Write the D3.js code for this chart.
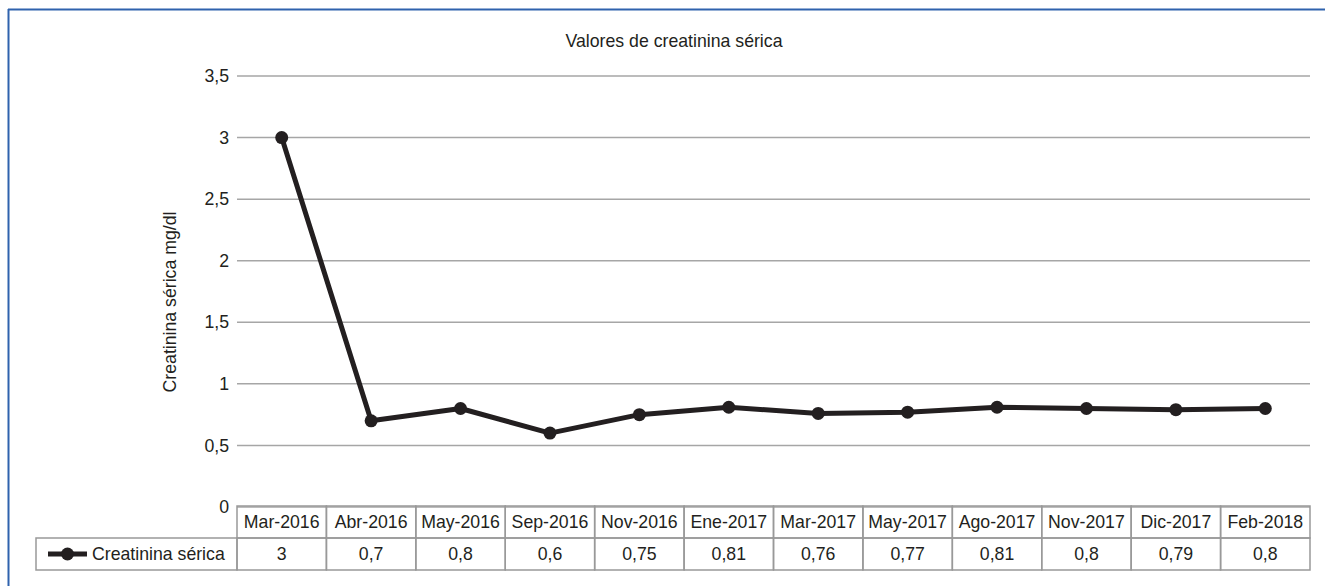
<!DOCTYPE html>
<html><head><meta charset="utf-8">
<script src="https://cdn.jsdelivr.net/npm/d3@7"></script>
<style>html,body{margin:0;padding:0;background:#fff;overflow:hidden;}svg{display:block;}</style>
</head><body>
<svg id="c" width="1325" height="586"></svg>
<script>
const categories = ["Mar-2016","Abr-2016","May-2016","Sep-2016","Nov-2016","Ene-2017","Mar-2017","May-2017","Ago-2017","Nov-2017","Dic-2017","Feb-2018"];
const values = [3, 0.7, 0.8, 0.6, 0.75, 0.81, 0.76, 0.77, 0.81, 0.8, 0.79, 0.8];
const valueLabels = ["3","0,7","0,8","0,6","0,75","0,81","0,76","0,77","0,81","0,8","0,79","0,8"];
const yTicks = [0, 0.5, 1, 1.5, 2, 2.5, 3, 3.5];
const seriesName = "Creatinina sérica";
const title = "Valores de creatinina sérica";
const yTitle = "Creatinina sérica mg/dl";

const svg = d3.select("#c");
const font = "'Liberation Sans', Arial, Helvetica, sans-serif";
const fs = 17.7;
const txt = "#231f20";
const L = 237, R = 1310, T = 76, B = 507;
const rowH = 32;

// frame (top and left edges visible)
svg.append("line").attr("x1",8).attr("x2",1325).attr("y1",9.5).attr("y2",9.5)
  .attr("stroke","#2f62ad").attr("stroke-width",2);
svg.append("line").attr("x1",8.5).attr("x2",8.5).attr("y1",9).attr("y2",586)
  .attr("stroke","#2f62ad").attr("stroke-width",2);

const x = d3.scaleBand().domain(categories).range([L, R]);
const y = d3.scaleLinear().domain([0, 3.5]).range([B, T]);

// gridlines
svg.append("g").selectAll("line").data(yTicks).join("line")
  .attr("x1", L).attr("x2", R).attr("y1", d=>y(d)).attr("y2", d=>y(d))
  .attr("stroke","#a6a6a6").attr("stroke-width",1.5);

// y axis labels
const yAxis = d3.axisLeft(y).tickValues(yTicks).tickSize(0).tickPadding(8)
  .tickFormat(d => String(d).replace(".", ","));
const ya = svg.append("g").attr("transform", `translate(${L},0)`).call(yAxis);
ya.select(".domain").remove();
ya.selectAll("text").attr("font-family", font).attr("font-size", fs).attr("fill", txt);

// title
svg.append("text").attr("x", 674).attr("y", 47).attr("text-anchor","middle")
  .attr("font-family", font).attr("font-size", fs).attr("fill", txt).text(title);

// y title
svg.append("text").attr("transform", "translate(176,302) rotate(-90)").attr("text-anchor","middle")
  .attr("font-family", font).attr("font-size", fs).attr("fill", txt).text(yTitle);

// line
const cx = d => x(d) + x.bandwidth()/2;
const line = d3.line().x((d,i)=>cx(categories[i])).y(d=>y(d));
svg.append("path").datum(values).attr("d", line).attr("fill","none")
  .attr("stroke", txt).attr("stroke-width", 5).attr("stroke-linejoin","round");
svg.append("g").selectAll("circle").data(values).join("circle")
  .attr("cx", (d,i)=>cx(categories[i])).attr("cy", d=>y(d)).attr("r", 6.5).attr("fill", txt);

// table
const tb = svg.append("g");
const gridC = "#999";
const tTop = B - 1;
tb.selectAll("rect.h").data(categories).join("rect").attr("class","h")
  .attr("x", d=>x(d)).attr("y", tTop).attr("width", x.bandwidth()).attr("height", rowH)
  .attr("fill","none").attr("stroke", gridC).attr("stroke-width",1.5);
tb.selectAll("text.h").data(categories).join("text").attr("class","h")
  .attr("x", d=>cx(d)).attr("y", tTop + rowH/2).attr("dy","0.35em").attr("text-anchor","middle")
  .attr("font-family", font).attr("font-size", fs).attr("fill", txt).text(d=>d);
tb.append("rect").attr("x", 36).attr("y", tTop+rowH).attr("width", L-36).attr("height", rowH)
  .attr("fill","none").attr("stroke", gridC).attr("stroke-width",1.5);
tb.selectAll("rect.v").data(categories).join("rect").attr("class","v")
  .attr("x", d=>x(d)).attr("y", tTop+rowH).attr("width", x.bandwidth()).attr("height", rowH)
  .attr("fill","none").attr("stroke", gridC).attr("stroke-width",1.5);
tb.selectAll("text.v").data(valueLabels).join("text").attr("class","v")
  .attr("x", (d,i)=>cx(categories[i])).attr("y", tTop + rowH*1.5).attr("dy","0.35em").attr("text-anchor","middle")
  .attr("font-family", font).attr("font-size", fs).attr("fill", txt).text(d=>d);
// legend
const ly = tTop + rowH*1.5;
tb.append("line").attr("x1",48).attr("x2",87).attr("y1",ly).attr("y2",ly).attr("stroke",txt).attr("stroke-width",5);
tb.append("circle").attr("cx",67.5).attr("cy",ly).attr("r",6.5).attr("fill",txt);
tb.append("text").attr("x",92).attr("y",ly).attr("dy","0.35em")
  .attr("font-family", font).attr("font-size", fs).attr("fill", txt).text(seriesName);
</script>
</body></html>
